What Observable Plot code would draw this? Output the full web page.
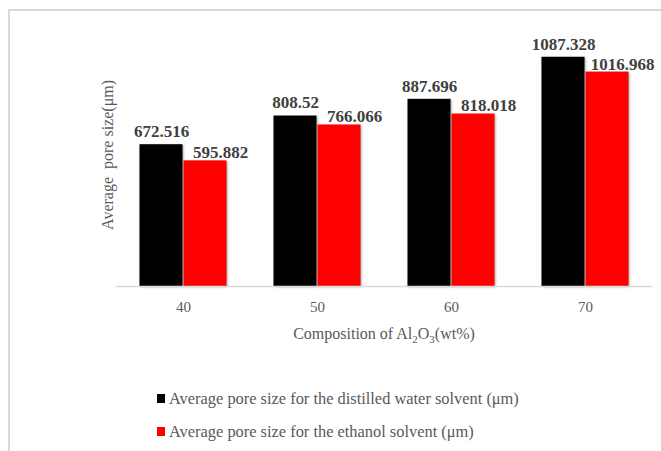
<!DOCTYPE html>
<html>
<head>
<meta charset="utf-8">
<script src="https://cdn.jsdelivr.net/npm/d3@7"></script>
<script src="https://cdn.jsdelivr.net/npm/@observablehq/plot@0.6"></script>
<style>
  html, body { margin: 0; padding: 0; background: #fff; }
  #wrap { position: relative; width: 661px; height: 451px; overflow: hidden; background: #fff; }
  #frame { position: absolute; left: 8px; top: 9px; width: 700px; height: 500px; border: 2px solid #d9d9d9; box-sizing: border-box; }
  #chart { position: absolute; left: 0; top: 0; }
  #chart svg g[aria-label="bar"] rect { filter: drop-shadow(1.5px 1px 1.2px rgba(0,0,0,0.35)); }
  #legend { position: absolute; left: 157px; top: 390px; font-family: "Liberation Serif", "Times New Roman", serif; font-size: 16.4px; color: #595959; }
  .item { display: flex; align-items: center; height: 17px; margin-bottom: 16px; white-space: nowrap; }
  .swatch { width: 8px; height: 9px; margin-right: 4px; }
</style>
</head>
<body>
<div id="wrap">
  <div id="frame"></div>
  <div id="chart"></div>
  <div id="legend"></div>
</div>
<script>
// Al2O3 content (wt%) of each sample group
const compositions = ["40", "50", "60", "70"];
// Average pore size (µm) per solvent
const waterValues = [672.516, 808.52, 887.696, 1087.328];
const ethanolValues = [595.882, 766.066, 818.018, 1016.968];
const seriesNames = [
  "Average pore size for the distilled water solvent (μm)",
  "Average pore size for the ethanol solvent (μm)"
];
const seriesColors = ["#000000", "#ff0000"];
const yDomain = [0, 1200];

const waterRows = compositions.map((c, i) => ({comp: c, series: seriesNames[0], value: waterValues[i]}));
const ethanolRows = compositions.map((c, i) => ({comp: c, series: seriesNames[1], value: ethanolValues[i]}));
const rows = waterRows.concat(ethanolRows);

const labelStyle = {
  fontFamily: "Liberation Serif", fontSize: 17, fontWeight: "bold", fill: "#404040"
};

const chart = Plot.plot({
  width: 661,
  height: 360,
  marginLeft: 115,
  marginRight: 9,
  marginTop: 33,
  marginBottom: 74,
  style: {fontFamily: "Liberation Serif", fontSize: "15px", color: "#595959", background: "transparent", overflow: "visible"},
  fx: {domain: compositions, paddingInner: 0.345, paddingOuter: 0.1725, label: null, tickSize: 0, tickPadding: 15, axis: "bottom"},
  x: {domain: seriesNames, axis: null, padding: 0},
  y: {domain: yDomain, axis: null},
  color: {domain: seriesNames, range: seriesColors},
  marks: [
    Plot.barY(rows, {fx: "comp", x: "series", y: "value", fill: "series", insetLeft: 0.5, insetRight: 0.5}),
    Plot.ruleY([0], {stroke: "#d9d9d9", strokeWidth: 1.5, insetLeft: -23.3, insetRight: -23.3}),
    Plot.text(waterRows, {fx: "comp", x: "series", y: "value", text: d => String(d.value), dy: -13, ...labelStyle}),
    Plot.text(ethanolRows, {fx: "comp", x: "series", y: "value", text: d => String(d.value), dx: 15, dy: -8, ...labelStyle})
  ]
});

// Axis titles (with subscripts in the chemical formula)
const svg = d3.select(chart);
const xTitle = svg.append("text")
  .attr("x", 384).attr("y", 339)
  .attr("text-anchor", "middle")
  .attr("font-family", "Liberation Serif").attr("font-size", 16).attr("fill", "#595959");
xTitle.append("tspan").text("Composition of Al");
xTitle.append("tspan").attr("dy", 4).attr("font-size", 11).text("2");
xTitle.append("tspan").attr("dy", -4).text("O");
xTitle.append("tspan").attr("dy", 4).attr("font-size", 11).text("3");
xTitle.append("tspan").attr("dy", -4).text("(wt%)");

svg.append("text")
  .attr("transform", "translate(113,155) rotate(-90)")
  .attr("text-anchor", "middle")
  .attr("font-family", "Liberation Serif").attr("font-size", 16).attr("fill", "#595959")
  .style("white-space", "pre")
  .text("Average  pore size(μm)");

document.getElementById("chart").appendChild(chart);

// Legend below the chart
const legend = d3.select("#legend");
seriesNames.forEach((name, i) => {
  const item = legend.append("div").attr("class", "item");
  item.append("div").attr("class", "swatch").style("background", seriesColors[i]);
  item.append("span").text(name);
});
</script>
</body>
</html>
